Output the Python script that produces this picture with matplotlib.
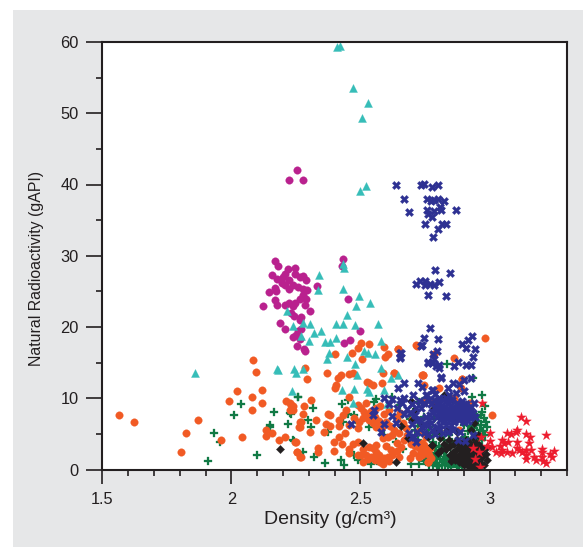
import numpy as np
import matplotlib
matplotlib.use('Agg')
import matplotlib.pyplot as plt
from matplotlib.patches import Rectangle
from matplotlib.ticker import MultipleLocator

plt.rcParams['font.family'] = ['Liberation Sans', 'DejaVu Sans']

# (density g/cm3, natural radioactivity gAPI), one list per group
magenta = [(2.168,29.27),(2.179,28.6),(2.219,28.1),(2.245,28.3),(2.248,27.5),(2.209,27.5),(2.156,27.3),(2.178,26.8),
    (2.200,27.0),(2.197,26.2),(2.223,26.6),(2.264,27.0),(2.277,27.1),(2.290,26.6),(2.206,25.9),(2.239,25.9),
    (2.258,25.6),(2.277,25.4),(2.293,25.2),(2.169,25.5),(2.173,25.1),(2.146,24.9),(2.222,25.3),(2.333,25.7),
    (2.277,24.5),(2.264,24.0),(2.290,24.0),(2.169,23.8),(2.177,23.1),(2.206,23.1),(2.223,23.3),(2.245,23.4),
    (2.239,23.0),(2.284,23.1),(2.124,22.9),(2.303,22.2),(2.232,21.9),(2.242,21.6),(2.271,21.4),(2.264,21.0),
    (2.190,20.5),(2.206,19.7),(2.258,19.4),(2.271,19.7),(2.251,18.9),(2.239,18.6),(2.267,18.3),(2.254,17.4),
    (2.280,16.9),(2.284,16.7),(2.432,29.6),(2.429,28.6),(2.452,24.0),(2.500,19.4),(2.436,17.8),(2.458,18.2),
    (2.222,40.7),(2.253,42.0),(2.276,40.6)]

cyan = [(2.408,59.3),(2.421,59.5),(2.472,53.5),(2.528,51.5),(2.507,49.3),(2.522,39.8),(2.500,39.1),(2.339,27.3),
    (2.336,25.2),(2.432,28.9),(2.438,28.3),(2.432,25.3),(2.495,24.4),(2.535,23.3),(2.481,22.9),(2.215,22.3),
    (2.449,21.7),(2.277,20.5),(2.303,20.4),(2.240,20.2),(2.407,20.4),(2.433,20.4),(2.478,20.3),(2.568,20.4),
    (2.348,19.5),(2.320,19.2),(2.271,18.8),(2.406,18.5),(2.299,18.0),(2.362,17.9),(2.383,17.9),(2.580,18.0),
    (2.512,16.6),(2.531,16.4),(2.558,16.2),(2.380,16.3),(2.449,15.8),(2.369,15.5),(2.478,14.8),(2.580,14.3),
    (2.178,14.1),(2.242,14.1),(2.277,14.1),(1.861,13.6),(2.179,13.9),(2.251,13.6),(2.236,11.0),(2.487,13.3),
    (2.644,13.3),(2.618,12.8),(2.429,11.1),(2.476,11.3),(2.524,11.3),(2.534,10.9),(2.591,11.2),(2.470,9.3),(2.601,9.2)]

orange = [(1.563,7.6),(1.621,6.7),(1.825,5.1),(1.804,2.5),(1.871,6.9),(1.958,4.2),(2.040,4.5),(1.992,9.6),(2.020,11.0),
    (2.081,10.2),(2.119,11.2),(2.117,9.4),(2.079,8.4),(2.084,15.3),(2.097,13.7),(2.135,5.6),(2.134,4.7),(2.159,5.1),
    (2.186,4.2),(2.209,4.6),(2.249,3.9),(2.254,2.4),(2.264,1.8),(2.213,9.6),(2.226,9.4),(2.239,8.9),(2.226,8.3),
    (2.264,6.7),(2.262,5.9),(2.502,17.8),(2.534,17.6),(2.489,17.0),(2.467,16.4),(2.592,17.2),(2.644,16.9),(2.717,17.5),
    (2.606,16.2),(2.596,15.8),(2.402,16.2),(2.506,15.5),(2.284,14.3),(2.372,13.5),(2.293,12.7),(2.425,13.2),(2.412,12.8),
    (2.457,13.4),(2.470,13.6),(2.588,13.6),(2.628,13.5),(2.740,13.2),(2.405,11.9),(2.403,11.5),(2.525,12.3),(2.534,12.1),
    (2.550,11.9),(2.583,12.1),(2.454,10.2),(2.309,9.7),(2.280,8.9),(2.231,9.1),(2.238,8.4),(2.279,7.8),(2.373,7.8),
    (2.382,7.6),(2.328,7.0),(2.271,6.7),(2.367,6.4),(2.382,6.1),(2.264,5.9),(2.305,5.3),(2.360,5.3),(2.418,6.1),
    (2.418,7.0),(2.431,7.7),(2.444,8.4),(2.489,9.1),(2.502,8.6),(2.515,8.1),(2.528,7.7),(2.511,7.2),(2.496,6.7),
    (2.534,7.0),(2.547,6.5),(2.560,5.9),(2.489,5.8),(2.586,4.4),(2.605,4.6),(2.624,4.9),(2.631,5.6),(2.663,6.5),
    (2.676,5.8),(2.670,4.1),(2.657,3.2),(2.618,2.8),(2.248,3.8),(2.256,2.5),(2.269,1.8),(2.335,3.0),(2.335,2.5),
    (2.399,3.9),(2.418,4.5),(2.427,3.6),(2.399,2.6),(2.489,3.9),(2.454,2.9),(2.454,2.3),(2.502,2.1),(2.521,2.1),
    (2.534,3.2),(2.547,3.0),(2.560,2.5),(2.573,2.1),(2.592,1.6),(2.586,0.8),(2.541,1.8),(2.508,1.0),(2.605,1.8),
    (2.624,2.1),(2.702,2.3),(2.728,1.8),(2.760,1.0),(2.766,2.1),(2.740,2.1),(2.650,1.8),(2.560,2.1),(2.489,2.1),
    (2.982,18.5),(2.718,17.4),(2.646,16.9),(2.785,16.2),(2.863,15.7),(2.629,13.5),(2.741,13.2),(2.893,12.7),(2.805,11.5),
    (2.742,13.2),(2.892,12.7),(2.863,10.1),(2.746,11.9),(2.880,9.4),(2.925,9.4),(3.009,7.6),(2.880,5.6),(2.738,3.7),
    (2.760,2.3),(2.760,1.1),(2.728,2.1),(2.741,2.7),(2.889,11.4),(2.786,9.5),(2.747,9.5),(2.575,8.9),(2.590,7.8),
    (2.610,8.3),(2.560,8.7),(2.600,6.6),(2.475,7.2),(2.455,6.2),(2.440,5.1),(2.640,7.2),(2.655,8.0),(2.700,6.9),
    (2.725,5.4),(2.755,4.6),(2.710,3.3),(2.690,1.6),(2.470,3.6),(2.510,2.9),(2.560,3.4),(2.600,3.3),(2.640,3.7),
    (2.520,9.3),(2.540,8.2),(2.555,7.4),(2.570,6.8),(2.585,6.0),(2.615,6.1),(2.650,5.1),(2.680,4.8),(2.695,3.6),
    (2.725,3.0),(2.745,3.4),(2.770,3.0),(2.775,1.6),(2.530,1.5),(2.555,1.3),(2.575,1.0),(2.610,1.2),(2.640,2.6)]

green = [(2.039,9.2),(2.012,7.6),(1.934,5.1),(1.955,3.9),(1.911,1.2),(2.099,2.1),(2.164,8.1),(2.226,7.9),(2.219,6.4),
    (2.148,6.2),(2.148,5.9),(2.258,10.2),(2.241,4.0),(2.257,10.2),(2.315,8.6),(2.231,7.8),(2.296,7.0),(2.309,6.0),
    (2.376,5.2),(2.431,6.7),(2.429,9.2),(2.451,9.8),(2.451,7.8),(2.476,7.7),(2.496,6.5),(2.534,5.9),(2.560,9.9),
    (2.277,2.5),(2.319,1.8),(2.363,0.9),(2.425,1.4),(2.438,0.6),(2.476,2.1),(2.489,1.4),(2.541,0.8),(2.612,3.0),
    (2.637,3.9),(2.695,0.8),(2.725,0.8),(2.773,1.8),(2.792,0.9),(2.811,2.3),(2.240,4.2),(2.624,10.2),(2.728,9.5),
    (2.554,9.5),(2.834,14.8),(2.969,10.5),(2.934,12.8),(2.780,0.6),(2.803,0.5),(2.829,0.7),(2.851,0.4),(2.872,0.6),
    (2.893,0.5),(2.762,1.0),(2.786,1.2),(2.818,1.1),(2.842,0.9),(2.864,1.3),(2.884,1.0),(2.752,1.7),(2.781,1.6),
    (2.808,1.5),(2.833,1.8),(2.861,1.6),(2.770,2.3),(2.798,2.2),(2.823,2.5),(2.852,2.1),(2.792,3.1),(2.819,2.9),
    (2.848,3.2),(2.723,4.1),(2.781,3.9),(2.824,4.2),(2.853,3.8),(2.972,4.1),(2.762,5.1),(2.842,4.9),(2.931,5.2),
    (2.958,5.0),(2.983,4.8),(2.722,6.1),(2.803,5.9),(2.902,6.2),(2.941,5.8),(2.968,6.3),(2.991,5.9),(2.783,7.1),
    (2.861,6.9),(2.921,7.2),(2.957,6.8),(2.978,7.2),(2.702,8.1),(2.832,7.9),(2.903,8.2),(2.948,7.7),(2.972,8.1),
    (2.653,9.1),(2.804,8.9),(2.921,9.2),(2.982,8.9),(2.752,10.1),(2.853,9.9),(2.933,10.2),(2.903,4.6),(2.912,3.8),
    (2.652,7.4),(2.711,5.6),(2.592,4.8),(2.565,1.2),(2.664,2.9),(2.946,6.2),(2.962,5.6),(2.976,5.4),(2.985,6.6),
    (2.952,7.3),(2.966,7.6),(2.938,6.9),(2.925,6.1),(2.915,5.4),(2.945,4.8),(2.965,4.5),(2.955,4.2),(2.790,2.7),
    (2.805,3.3),(2.835,3.5),(2.775,1.1),(2.800,1.9),(2.825,1.4),(2.850,1.5),(2.815,0.6),(2.840,0.5),(2.795,0.5),
    (2.765,0.6),(2.745,1.2),(2.860,0.8),(2.880,0.4),(2.780,4.7),(2.810,5.0),(2.765,6.0),(2.745,7.3),(2.690,7.1)]

black = [(2.187,2.9),(2.508,3.7),(2.637,1.1),(2.695,9.6),(2.699,7.0),(2.657,6.1),(2.686,4.4),(2.779,3.5),(2.740,6.3),
    (2.801,2.3),(2.825,10.5),(2.805,7.4),(2.928,5.6),(2.841,4.2),(2.777,3.5),(2.810,4.4),(2.822,3.6),(2.833,2.9),
    (2.812,2.7),(2.848,3.3),(2.862,3.6),(2.873,4.1),(2.884,3.4),(2.896,3.8),(2.908,4.2),(2.921,3.9),(2.934,4.4),
    (2.948,3.7),(2.962,3.3),(2.976,2.9),(2.992,3.1),(2.985,2.2),(2.972,1.7),(2.989,1.3),(2.958,2.4),(2.944,2.8),
    (2.930,3.2),(2.917,2.9),(2.903,3.0),(2.889,2.7),(2.875,2.9),(2.860,2.4),(2.845,2.1),(2.868,2.0),(2.882,1.8),
    (2.896,2.2),(2.910,2.1),(2.924,2.3),(2.938,1.9),(2.952,1.6),(2.966,0.9),(2.950,0.7),(2.936,1.1),(2.922,1.4),
    (2.908,1.2),(2.894,1.5),(2.880,1.0),(2.866,1.3),(2.852,1.2),(2.900,0.6),(2.915,0.5),(2.930,0.4),(2.945,0.3),
    (2.960,0.4),(2.978,0.7),(2.927,0.9),(2.914,2.6),(2.941,2.4),(2.956,3.0),(2.942,1.2),(2.875,5.3),(2.834,5.5),
    (2.955,4.9),(2.940,6.5),(2.800,5.6),(2.763,4.6),(2.710,8.4),(2.785,8.6),(2.890,2.3),(2.905,1.7),(2.920,1.9),
    (2.935,1.5),(2.950,2.1),(2.965,1.9),(2.925,2.8),(2.910,3.4),(2.895,3.1),(2.940,3.4),(2.955,3.6),(2.905,0.9),
    (2.920,0.7),(2.935,0.7),(2.955,1.1),(2.890,1.9),(2.875,1.6),(2.858,1.8)]

blue = [(2.638,40.0),(2.736,39.9),(2.746,40.1),(2.779,39.6),(2.802,39.9),(2.670,38.0),(2.759,37.9),(2.773,37.7),(2.786,37.8),
    (2.802,38.0),(2.825,37.7),(2.687,36.2),(2.757,36.4),(2.763,35.9),(2.785,36.3),(2.809,36.8),(2.812,36.4),(2.869,36.4),
    (2.777,35.4),(2.750,34.4),(2.815,34.4),(2.830,34.5),(2.799,33.7),(2.780,32.7),(2.789,28.0),(2.847,27.6),(2.803,26.3),
    (2.715,26.1),(2.732,26.5),(2.750,26.5),(2.750,25.9),(2.769,26.1),(2.783,25.9),(2.760,24.5),(2.832,24.4),(2.769,19.8),
    (2.747,18.5),(2.801,18.3),(2.736,17.4),(2.795,16.6),(2.932,18.7),(2.917,18.2),(2.892,17.6),(2.908,17.0),(2.942,16.9),
    (2.935,15.8),(2.655,16.4),(2.655,15.8),(2.786,15.5),(2.760,14.9),(2.777,14.9),(2.805,14.7),(2.805,14.2),(2.879,15.1),
    (2.863,14.5),(2.908,14.6),(2.928,14.6),(2.812,13.0),(2.928,12.8),(2.812,12.8),(2.883,12.0),(2.902,12.6),(2.780,11.2),
    (2.838,11.4),(2.902,11.0),(2.754,10.5),(2.805,10.0),(2.844,10.5),(2.941,9.4),(2.657,16.3),(2.654,15.7),(2.670,12.2),
    (2.644,11.4),(2.721,12.2),(2.740,11.6),(2.592,10.0),(2.624,9.9),(2.670,10.1),(2.702,10.5),(2.756,10.5),(2.779,11.2),
    (2.640,8.6),(2.554,8.4),(2.547,7.7),(2.624,7.5),(2.592,6.4),(2.463,6.4),(2.637,6.5),(2.579,5.3),(2.670,7.8),
    (2.682,8.5),(2.715,8.6),(2.689,5.1),(2.708,4.5),(2.740,6.0),(2.753,7.4),(2.779,8.1),(2.734,8.6),(2.766,7.0),
    (2.779,5.6),(2.760,15.1),(2.779,15.1),(2.792,14.5),(2.737,17.5),(2.782,16.2),(2.784,9.8),(2.802,9.3),(2.820,9.7),
    (2.838,9.4),(2.856,9.8),(2.874,9.3),(2.892,9.6),(2.910,9.2),(2.928,8.8),(2.790,8.8),(2.808,8.5),(2.826,8.8),
    (2.844,8.4),(2.862,8.7),(2.880,8.4),(2.898,8.7),(2.916,8.3),(2.934,8.0),(2.800,7.9),(2.818,7.6),(2.836,7.9),
    (2.854,7.5),(2.872,7.8),(2.890,7.5),(2.908,7.7),(2.926,7.2),(2.944,7.4),(2.810,7.0),(2.828,6.8),(2.846,7.0),
    (2.864,6.7),(2.882,6.9),(2.900,6.6),(2.918,6.8),(2.730,7.0),(2.745,6.4),(2.720,5.2),(2.700,4.6),(2.715,3.9),
    (2.806,5.5),(2.820,5.1),(2.790,5.0),(2.840,5.3),(2.877,4.1),(2.885,5.2),(2.860,5.6),(2.935,4.9),(2.905,4.0),(2.860,12.1),
    (2.795,7.4),(2.812,7.3),(2.830,7.4),(2.848,7.6),(2.866,7.3),(2.884,7.2),(2.902,7.2),(2.920,7.6),(2.795,8.3),
    (2.815,8.1),(2.833,8.3),(2.851,8.1),(2.869,8.2),(2.887,8.0),(2.905,8.1),(2.923,8.4),(2.770,7.6),(2.775,9.2),
    (2.795,9.2),(2.815,9.0),(2.850,9.0),(2.885,9.0),(2.900,9.2),(2.830,10.1),(2.765,9.8),(2.745,9.3),(2.725,9.6),
    (2.700,9.2),(2.690,7.9),(2.660,9.3),(2.700,6.4),(2.720,6.9),(2.710,7.7),(2.760,6.3),(2.775,6.5),(2.745,5.1),
    (2.760,4.9),(2.655,9.7),(2.610,9.2),(2.870,10.7),(2.790,10.6),(2.830,6.2),(2.850,6.3),(2.795,6.0),(2.810,6.3)]

red = [(3.120,7.3),(3.140,6.8),(3.068,5.1),(3.082,4.95),(3.106,5.6),(3.102,5.2),(3.140,4.95),(3.155,4.5),(3.219,4.9),
    (3.048,4.15),(3.073,3.9),(3.108,3.8),(3.151,3.7),(3.002,5.1),(3.001,4.0),(2.992,3.3),(3.011,3.1),(3.040,3.3),
    (3.024,2.5),(3.050,2.8),(3.066,2.4),(3.086,2.3),(3.108,3.0),(3.127,2.5),(3.143,2.8),(3.160,2.7),(3.140,2.05),
    (3.143,1.5),(3.173,1.8),(3.179,1.4),(3.205,2.85),(3.205,2.5),(3.205,1.8),(3.207,1.25),(3.220,0.9),(3.233,2.15),
    (3.241,1.8),(3.250,2.6),(2.970,9.4),(2.966,4.6),(2.937,3.0),(2.960,2.4),(2.945,1.5),(2.964,0.3),(3.044,2.3),
    (3.057,3.7),(3.115,2.75)]

fig = plt.figure(figsize=(5.83, 5.47), dpi=100)
fig.patches.append(Rectangle((13/583, 0), 570/583, 537/547, transform=fig.transFigure,
                             facecolor='#e6e7e8', edgecolor='none', zorder=-1))
ax = fig.add_axes([102.3/583, 1 - 469.5/547, (567 - 102.3)/583, (469.5 - 42)/547])
ink = '#231f20'

# draw order matters, the clusters overlap a lot
groups = [(green, '#117a45', 'P', 38), (magenta, '#b9218e', 'o', 30), (orange, '#f15a24', 'o', 30),
          (cyan, '#36bdb8', '^', 34), (black, '#231f20', 'D', 18), (blue, '#2e3192', 'X', 36),
          (red, '#ed1c2e', '*', 55)]
for pts, col, mk, size in groups:
    xs, ys = np.array(pts).T
    ax.scatter(xs, ys, s=size, c=col, marker=mk, linewidths=0.2, edgecolors=col)

ax.set_xlim(1.5, 3.3)
ax.set_ylim(0, 60)
ax.set_xticks([1.5, 2, 2.5, 3])
ax.set_xticklabels(['1.5', '2', '2.5', '3'])
ax.set_yticks([0, 10, 20, 30, 40, 50, 60])
ax.xaxis.set_minor_locator(MultipleLocator(0.1))
ax.yaxis.set_minor_locator(MultipleLocator(5))
ax.tick_params(axis='x', which='major', length=10, width=1.2, pad=6, labelsize=11.8, colors=ink)
ax.tick_params(axis='y', which='major', length=11.5, width=1.2, pad=5.5, labelsize=11.8, colors=ink)
ax.tick_params(axis='both', which='minor', length=4.5, width=1.2, colors=ink)
for s in ax.spines.values():
    s.set_linewidth(1.5)
    s.set_color(ink)

fig.text(330/583, 1 - 520/547, 'Density (g/cm³)', ha='center', va='center', fontsize=14, color=ink)
fig.text(37/583, 1 - 268/547, 'Natural Radioactivity (gAPI)', rotation=90, ha='center', va='center',
         fontsize=11.4, color=ink)

fig.savefig('out.png', dpi=100)
